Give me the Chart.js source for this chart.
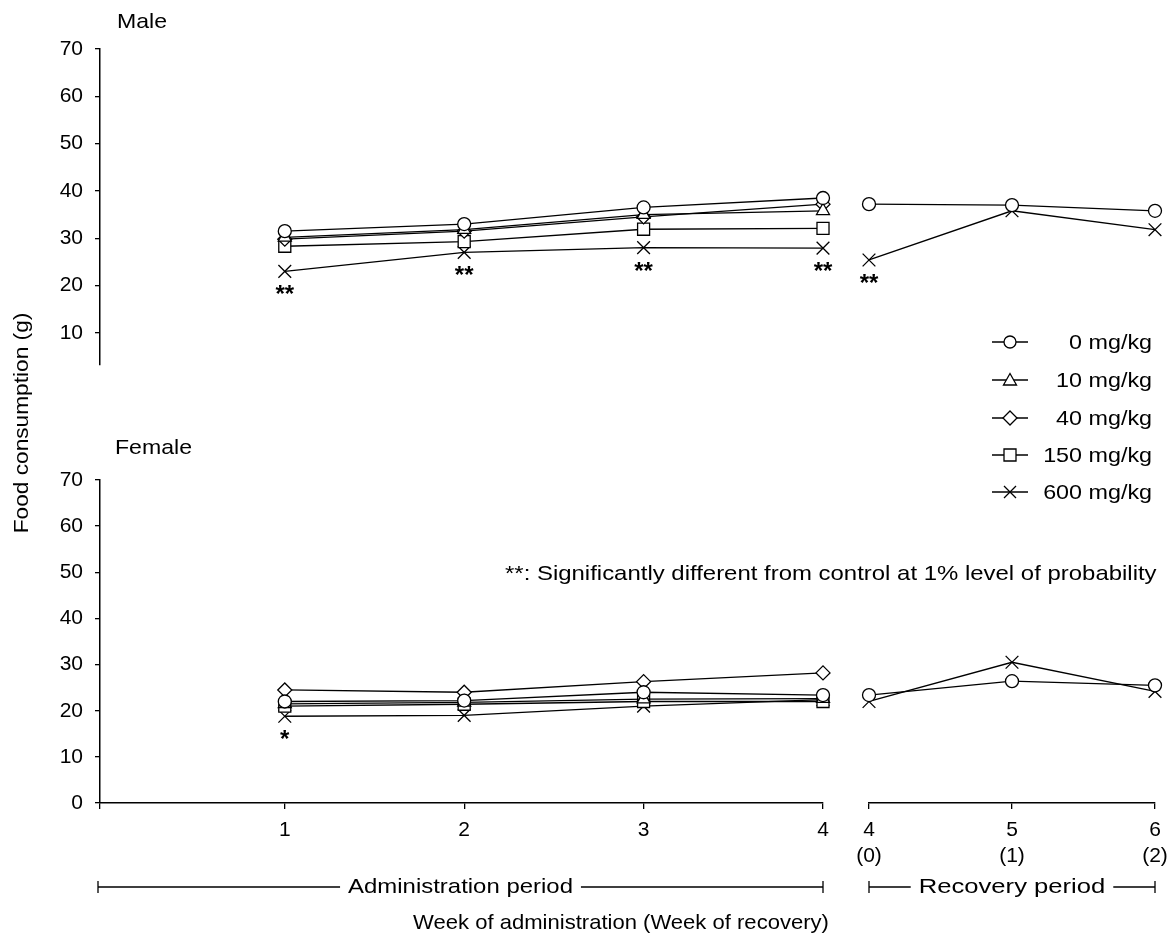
<!DOCTYPE html>
<html><head><meta charset="utf-8">
<script src="https://cdn.jsdelivr.net/npm/chart.js@4.4.1/dist/chart.umd.min.js"></script>
<style>
html,body{margin:0;padding:0;background:#fff;}
#wrap{position:relative;width:1172px;height:943px;overflow:hidden;background:#fff;}
#wrap canvas{position:absolute;left:0;top:0;}
</style></head><body>
<div id="wrap">
<canvas id="cMA" width="1172" height="943"></canvas>
<canvas id="cMR" width="1172" height="943"></canvas>
<canvas id="cFR" width="1172" height="943"></canvas>
<canvas id="cFA" width="1172" height="943"></canvas>
</div>
<script>
const FONT = "'Liberation Sans', Arial, Helvetica, sans-serif";

// ---- data ----
const weeksAdmin = [1, 2, 3, 4];
const weeksRecovery = [4, 5, 6];
const adminTickLabels = ['1', '2', '3', '4'];
const recoveryTickLabels = [['4', '(0)'], ['5', '(1)'], ['6', '(2)']];
const doseLabels = ['0 mg/kg', '10 mg/kg', '40 mg/kg', '150 mg/kg', '600 mg/kg'];
const maleYTicks = [10, 20, 30, 40, 50, 60, 70];
const femaleYTicks = [0, 10, 20, 30, 40, 50, 60, 70];

// Male, administration period (weeks 1-4)
const male0   = [31.5, 33.0, 36.5, 38.5];
const male10  = [30.2, 31.8, 35.0, 35.8];
const male40  = [29.8, 31.5, 34.5, 37.2];
const male150 = [28.3, 29.3, 31.9, 32.1];
const male600 = [23.0, 27.0, 28.0, 27.9];
// Male, recovery period (weeks 4-6)
const male0Rec   = [37.2, 37.0, 35.8];
const male600Rec = [25.4, 35.8, 31.8];

// Female, administration period
const female0   = [22.0, 22.2, 24.0, 23.4];
const female10  = [21.5, 21.8, 22.5, 22.6];
const female40  = [24.5, 24.0, 26.3, 28.2];
const female150 = [21.0, 21.4, 22.0, 22.0];
const female600 = [18.8, 19.0, 21.0, 22.4];
// Female, recovery period
const female0Rec   = [23.4, 26.4, 25.5];
const female600Rec = [22.0, 30.5, 24.2];

// significance marks on 600 mg/kg group
const maleSig600      = ['**', '**', '**', '**'];
const maleSigRec600   = ['**', '', ''];
const femaleSig600    = ['*', '', '', ''];
const femaleSigRec600 = ['', '', ''];

// ---- styles ----
const markerStyles = [
  {pointStyle: 'circle',   radius: 6.5},
  {pointStyle: 'triangle', radius: 7.5},
  {pointStyle: 'rectRot',  radius: 7},
  {pointStyle: 'rect',     radius: 8.5},
  {pointStyle: 'crossRot', radius: 9}
];

function mkDs(xs, ys, k) {
  const st = markerStyles[k];
  return {
    label: doseLabels[k],
    data: xs.map((x, i) => ({x: x, y: ys[i]})),
    borderColor: '#000', backgroundColor: '#fff', borderWidth: 1.3,
    pointStyle: st.pointStyle, pointRadius: st.radius,
    pointBackgroundColor: '#fff', pointBorderColor: '#000', pointBorderWidth: 1.3,
    tension: 0, clip: false, fill: false
  };
}

const sigPlugin = {
  id: 'sig',
  afterDatasetsDraw(chart) {
    const sig = chart.options.plugins.sig;
    if (!sig || !sig.marks) return;
    const ctx = chart.ctx;
    const meta = chart.getDatasetMeta(sig.dataset);
    ctx.save();
    ctx.fillStyle = '#000';
    ctx.font = 'bold 24px ' + FONT;
    ctx.textAlign = 'center';
    ctx.textBaseline = 'alphabetic';
    sig.marks.forEach((m, i) => {
      if (!m) return;
      const p = meta.data[i];
      ctx.fillText(m, p.x, p.y + 18 + 13);
    });
    ctx.restore();
  }
};

function drawMarker(ctx, style, x, y) {
  ctx.beginPath();
  if (style === 'circle') {
    ctx.arc(x, y, 6, 0, Math.PI * 2);
    ctx.fill(); ctx.stroke();
  } else if (style === 'triangle') {
    ctx.moveTo(x, y - 6.5); ctx.lineTo(x + 6.5, y + 5); ctx.lineTo(x - 6.5, y + 5); ctx.closePath();
    ctx.fill(); ctx.stroke();
  } else if (style === 'rectRot') {
    ctx.moveTo(x, y - 7); ctx.lineTo(x + 7, y); ctx.lineTo(x, y + 7); ctx.lineTo(x - 7, y); ctx.closePath();
    ctx.fill(); ctx.stroke();
  } else if (style === 'rect') {
    ctx.rect(x - 6, y - 6, 12, 12);
    ctx.fill(); ctx.stroke();
  } else {
    ctx.moveTo(x - 6, y - 6); ctx.lineTo(x + 6, y + 6);
    ctx.moveTo(x + 6, y - 6); ctx.lineTo(x - 6, y + 6);
    ctx.stroke();
  }
}

// text drawn slightly widened to match the scanned lettering
function sText(ctx, t, x, y, align, sx) {
  ctx.save();
  ctx.translate(x, y);
  ctx.scale(sx, 1);
  ctx.textAlign = align;
  ctx.fillText(t, 0, 0);
  ctx.restore();
}

const textPlugin = {
  id: 'texts',
  afterDraw(chart) {
    const ctx = chart.ctx;
    ctx.save();
    ctx.fillStyle = '#000';
    ctx.strokeStyle = '#000';
    ctx.font = '21px ' + FONT;
    ctx.textBaseline = 'middle';
    // panel titles
    sText(ctx, 'Male', 117, 22, 'left', 1.1);
    sText(ctx, 'Female', 115, 448, 'left', 1.1);
    // y axis title
    ctx.save();
    ctx.translate(22, 423);
    ctx.rotate(-Math.PI / 2);
    sText(ctx, 'Food consumption (g)', 0, 0, 'center', 1.08);
    ctx.restore();
    // legend
    const rowY = [342, 380, 418, 455, 492];
    doseLabels.forEach((lab, k) => {
      const y = rowY[k];
      ctx.lineWidth = 1.3;
      ctx.beginPath(); ctx.moveTo(992, y); ctx.lineTo(1028, y); ctx.stroke();
      ctx.fillStyle = '#fff';
      drawMarker(ctx, markerStyles[k].pointStyle, 1010, y);
      ctx.fillStyle = '#000';
      sText(ctx, lab, 1152, y + 1, 'right', 1.11);
    });
    // annotation
    sText(ctx, '**: Significantly different from control at 1% level of probability', 505, 574, 'left', 1.14);
    // brackets
    const drawBracket = (x0, x1, y, label, sx) => {
      const cx = (x0 + x1) / 2;
      const w = ctx.measureText(label).width * sx;
      ctx.lineWidth = 1.3;
      ctx.beginPath();
      ctx.moveTo(x0, y); ctx.lineTo(cx - w / 2 - 8, y);
      ctx.moveTo(cx + w / 2 + 8, y); ctx.lineTo(x1, y);
      ctx.moveTo(x0, y - 6); ctx.lineTo(x0, y + 6);
      ctx.moveTo(x1, y - 6); ctx.lineTo(x1, y + 6);
      ctx.stroke();
      sText(ctx, label, cx, y, 'center', sx);
    };
    drawBracket(98, 823, 887, 'Administration period', 1.14);
    drawBracket(869, 1155, 887, 'Recovery period', 1.22);
    sText(ctx, 'Week of administration (Week of recovery)', 621, 923, 'center', 1.05);
    ctx.restore();
  }
};

function makeChart(id, cfg) {
  const tickFont = {family: FONT, size: 21};
  return new Chart(document.getElementById(id), {
    type: 'line',
    data: {datasets: cfg.datasets},
    plugins: [sigPlugin].concat(cfg.extraPlugins || []),
    options: {
      responsive: false, animation: false, events: [],
      layout: {padding: cfg.padding, autoPadding: false},
      plugins: {
        legend: {display: false}, tooltip: {enabled: false},
        sig: {dataset: 4, marks: cfg.sig}
      },
      scales: {
        x: {
          type: 'linear', min: cfg.xMin, max: cfg.xMax, display: cfg.showX,
          afterFit(s) {
            if (cfg.showX) s.height = 140;
            s.paddingLeft = 0; s.paddingRight = 0;
          },
          afterBuildTicks(s) { s.ticks = cfg.xTicks.map(v => ({value: v})); },
          ticks: {
            autoSkip: false, maxRotation: 0, color: '#000', font: tickFont, padding: 9,
            callback(v, i) { return cfg.xLabels[i]; }
          },
          grid: {drawOnChartArea: false, drawTicks: true, tickLength: 6, color: '#000', lineWidth: 1.3},
          border: {display: true, color: '#000', width: 1.5}
        },
        y: {
          type: 'linear', min: cfg.yMin, max: cfg.yMax, display: cfg.showY,
          afterFit(s) {
            if (cfg.showY) s.width = 100;
            s.paddingTop = 0; s.paddingBottom = 0;
          },
          afterBuildTicks(s) { s.ticks = cfg.yTicks.map(v => ({value: v})); },
          ticks: {color: '#000', font: tickFont, padding: 12},
          grid: {drawOnChartArea: false, drawTicks: true, tickLength: 5, color: '#000', lineWidth: 1.3},
          border: {display: true, color: '#000', width: 1.5}
        }
      }
    }
  });
}

const maleAdminSets = [male0, male10, male40, male150, male600].map((d, k) => mkDs(weeksAdmin, d, k));
const femaleAdminSets = [female0, female10, female40, female150, female600].map((d, k) => mkDs(weeksAdmin, d, k));
const maleRecSets = [mkDs(weeksRecovery, male0Rec, 0), {data: []}, {data: []}, {data: []}, mkDs(weeksRecovery, male600Rec, 4)];
const femaleRecSets = [mkDs(weeksRecovery, female0Rec, 0), {data: []}, {data: []}, {data: []}, mkDs(weeksRecovery, female600Rec, 4)];

const ADMIN_XMIN = -0.03;

makeChart('cMA', {
  datasets: maleAdminSets, padding: {left: 0, right: 349, top: 49, bottom: 578},
  xMin: ADMIN_XMIN, xMax: 4, showX: false, xTicks: weeksAdmin, xLabels: adminTickLabels,
  yMin: 3.2, yMax: 70, showY: true, yTicks: maleYTicks, sig: maleSig600
});
makeChart('cMR', {
  datasets: maleRecSets, padding: {left: 869, right: 17, top: 49, bottom: 578},
  xMin: 4, xMax: 6, showX: false, xTicks: weeksRecovery, xLabels: recoveryTickLabels,
  yMin: 3.2, yMax: 70, showY: false, yTicks: maleYTicks, sig: maleSigRec600
});
makeChart('cFR', {
  datasets: femaleRecSets, padding: {left: 869, right: 17, top: 480, bottom: 0},
  xMin: 4, xMax: 6, showX: true, xTicks: weeksRecovery, xLabels: recoveryTickLabels,
  yMin: 0, yMax: 70, showY: false, yTicks: femaleYTicks, sig: femaleSigRec600
});
makeChart('cFA', {
  datasets: femaleAdminSets, padding: {left: 0, right: 349, top: 480, bottom: 0},
  xMin: ADMIN_XMIN, xMax: 4, showX: true, xTicks: [ADMIN_XMIN].concat(weeksAdmin), xLabels: [''].concat(adminTickLabels),
  yMin: 0, yMax: 70, showY: true, yTicks: femaleYTicks, sig: femaleSig600,
  extraPlugins: [textPlugin]
});
</script>
</body></html>
